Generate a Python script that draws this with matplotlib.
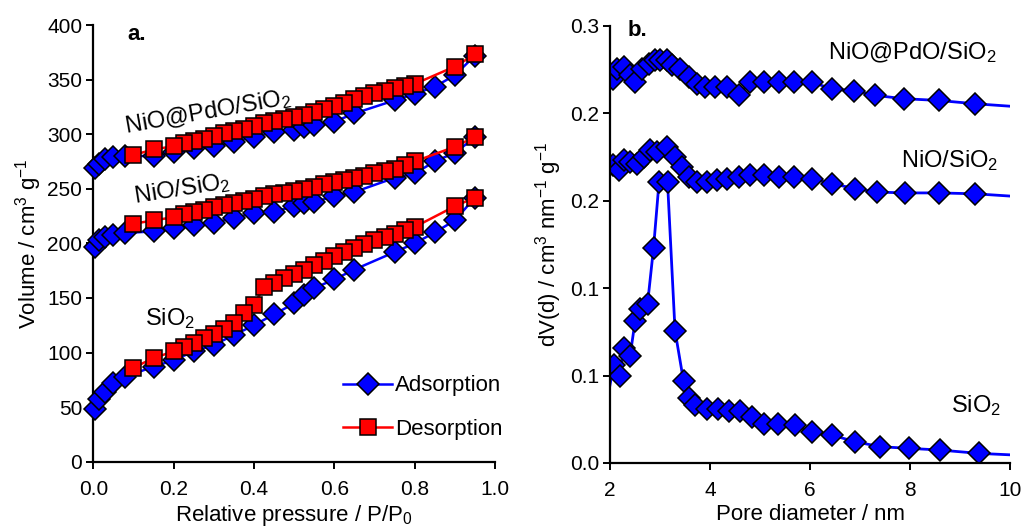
import numpy as np
import matplotlib
matplotlib.use("Agg")
import matplotlib.pyplot as plt

plt.rcParams.update({
    "font.family": "Liberation Sans",
    "font.size": 15,
    "mathtext.fontset": "custom",
    "mathtext.rm": "Liberation Sans",
    "mathtext.it": "Liberation Sans:italic",
    "mathtext.bf": "Liberation Sans:bold",
    "axes.spines.top": False,
    "axes.spines.right": False,
    "axes.linewidth": 1.6,
    "xtick.major.width": 1.4,
    "ytick.major.width": 1.4,
    "xtick.major.size": 5,
    "ytick.major.size": 5,
    "xtick.major.pad": 8,
    "ytick.major.pad": 3,
})

BLUE = "#0000FF"
RED = "#FF0000"

# ---- (a) N2 isotherms: relative pressure P/P0 vs volume (cm3/g) ----
p_ads = [0.005, 0.015, 0.03, 0.05, 0.08, 0.15, 0.2, 0.25, 0.3, 0.35, 0.4,
         0.45, 0.5, 0.525, 0.55, 0.6, 0.65, 0.75, 0.8, 0.85, 0.9, 0.95]
p_des = [0.95, 0.9, 0.8, 0.775, 0.75, 0.725, 0.7, 0.675, 0.65, 0.625, 0.6,
         0.575, 0.55, 0.525, 0.5, 0.475, 0.45, 0.425, 0.4, 0.375, 0.35,
         0.325, 0.3, 0.275, 0.25, 0.225, 0.2, 0.15, 0.1]

sio2_ads = [48, 57, 64, 72, 78, 87, 93, 101, 107, 116, 125,
            135, 145, 153, 159, 167, 176, 192, 200, 210, 221, 242]
sio2_des = [242, 234, 215, 212, 209, 206, 203, 199, 196, 192, 188,
            184, 180, 176, 172, 168, 164, 160, 144, 136, 127,
            122, 117, 113, 109, 105, 101, 95, 86]

nio_ads = [197, 203, 206, 208, 209.5, 211, 214, 217, 219, 223, 228,
           229, 234, 237, 238, 243, 247, 260, 264, 275, 283, 297]
nio_des = [297.5, 288.5, 275, 271.5, 268.5, 266, 264, 262, 260, 258, 256,
           254, 252, 250, 248, 246.5, 245, 243, 241, 239, 237,
           235, 233, 231, 229, 226.5, 224, 221, 218]

nipd_ads = [269, 273, 277, 279, 280, 280, 284, 287, 289, 293, 297.5,
            302, 304, 307, 308.5, 311.5, 319, 331, 337, 343.5, 354, 372]
nipd_des = [373, 362, 346, 344, 342, 340, 338, 335, 332, 329, 326,
            323, 320.5, 318, 316, 314, 312, 310, 307.5, 305, 303,
            301, 298.5, 296, 294, 291.5, 289, 286, 281]

# ---- (b) pore size distributions: pore diameter (nm) vs dV(d) ----
d_sio2 = [1.97, 2.07, 2.2, 2.27, 2.4, 2.5, 2.6, 2.75, 2.87, 2.98, 3.15,
          3.3, 3.47, 3.57, 3.7, 3.93, 4.15, 4.37, 4.6, 4.83, 5.07, 5.35,
          5.7, 6.03, 6.43, 6.9, 7.4, 7.97, 8.6, 9.37, 10.05]
v_sio2 = [0.040, 0.056, 0.050, 0.066, 0.061, 0.081, 0.088, 0.091, 0.123,
          0.1607, 0.1607, 0.0756, 0.0468, 0.037, 0.033, 0.031, 0.031,
          0.0295, 0.030, 0.0263, 0.0222, 0.0225, 0.0215, 0.0178, 0.016,
          0.0122, 0.0093, 0.0084, 0.0074, 0.0055, 0.0046]

d_nio = [2.05, 2.17, 2.27, 2.4, 2.53, 2.67, 2.8, 2.93, 3.13, 3.3, 3.43,
         3.57, 3.73, 3.93, 4.13, 4.33, 4.57, 4.8, 5.07, 5.37, 5.67, 6.03,
         6.43, 6.9, 7.33, 7.9, 8.57, 9.3, 10.05]
v_nio = [0.1703, 0.1674, 0.1731, 0.1722, 0.1713, 0.175, 0.1789, 0.178,
         0.1807, 0.175, 0.1693, 0.1636, 0.1607, 0.1607, 0.1617, 0.1627,
         0.1636, 0.1646, 0.1646, 0.1636, 0.1636, 0.1627, 0.1598, 0.157,
         0.155, 0.1545, 0.1545, 0.154, 0.1526]

d_nipd = [2.05, 2.13, 2.27, 2.4, 2.5, 2.63, 2.77, 2.9, 3.0, 3.13, 3.23,
          3.4, 3.57, 3.73, 3.9, 4.1, 4.33, 4.57, 4.8, 5.07, 5.37, 5.67,
          6.03, 6.43, 6.87, 7.3, 7.87, 8.57, 9.3, 10.05]
v_nipd = [0.2198, 0.2255, 0.2265, 0.222, 0.218, 0.2255, 0.2284, 0.2303,
          0.2303, 0.2303, 0.2274, 0.2255, 0.2207, 0.217, 0.215, 0.215,
          0.215, 0.2103, 0.218, 0.218, 0.218, 0.218, 0.218, 0.214, 0.213,
          0.2103, 0.2084, 0.2074, 0.2055, 0.204]

yticks_b = [0.0, 0.05, 0.10, 0.15, 0.20, 0.25]
ytick_labels_b = ["0.0", "0.1", "0.1", "0.2", "0.2", "0.3"]

fig = plt.figure(figsize=(10.27, 5.29), dpi=100)
ax1 = fig.add_axes([0.0908, 0.1272, 0.3912, 0.8255])
ax2 = fig.add_axes([0.594, 0.1248, 0.3895, 0.8261])

ads_kw = dict(color=BLUE, lw=1.8, marker="D", ms=11, mfc=BLUE,
              mec="black", mew=1.1, clip_on=False)
des_kw = dict(color=RED, lw=1.8, marker="s", ms=12, mfc=RED,
              mec="black", mew=1.1, clip_on=False)

for ads, des in [(sio2_ads, sio2_des), (nio_ads, nio_des), (nipd_ads, nipd_des)]:
    ax1.plot(p_ads, ads, zorder=3, **ads_kw)
    ax1.plot(p_des, des, zorder=4, **des_kw)

ax1.set_xlim(0, 1.0)
ax1.set_ylim(0, 400)
ax1.set_xticks(np.arange(0, 1.01, 0.2))
ax1.set_xticklabels(["0.0", "0.2", "0.4", "0.6", "0.8", "1.0"])
ax1.set_yticks(np.arange(0, 401, 50))
ax1.set_xlabel("Relative pressure / P/P$_0$", labelpad=3, fontsize=16)
ax1.set_ylabel("Volume / cm$^3$ g$^{-1}$", labelpad=2, fontsize=16)

ax1.text(0.286, 320, "NiO@PdO/SiO$_2$", rotation=10, ha="center",
         va="center", fontsize=17)
ax1.text(0.22, 250, "NiO/SiO$_2$", rotation=9, ha="center",
         va="center", fontsize=17)
ax1.text(0.19, 131, "SiO$_2$", ha="center", va="center", fontsize=17)
ax1.text(0.085, 0.978, "a.", transform=ax1.transAxes, fontweight="bold",
         fontsize=16, va="center")

h_ads, = ax1.plot([], [], **ads_kw)
h_des, = ax1.plot([], [], **des_kw)
ax1.legend([h_ads, h_des], ["Adsorption", "Desorption"], loc="lower left",
           bbox_to_anchor=(0.6, 0.03), frameon=False, handlelength=2.2,
           labelspacing=1.0, handletextpad=0.15, fontsize=16,
           borderaxespad=0)

psd_kw = dict(color=BLUE, lw=2.0, marker="D", ms=11, mfc=BLUE,
              mec="black", mew=1.1)
ax2.plot(d_sio2, v_sio2, markevery=slice(1, len(d_sio2) - 1), **psd_kw)
ax2.plot(d_nio, v_nio, markevery=slice(0, len(d_nio) - 1), **psd_kw)
ax2.plot(d_nipd, v_nipd, markevery=slice(0, len(d_nipd) - 1), **psd_kw)

ax2.set_xlim(2, 10)
ax2.set_ylim(0, 0.25)
ax2.set_xticks([2, 4, 6, 8, 10])
ax2.set_yticks(yticks_b)
ax2.set_yticklabels(ytick_labels_b)
ax2.set_xlabel("Pore diameter / nm", labelpad=3, fontsize=16)
ax2.set_ylabel("dV(d) / cm$^3$ nm$^{-1}$ g$^{-1}$", labelpad=4, fontsize=16)

ax2.text(8.04, 0.2349, "NiO@PdO/SiO$_2$", ha="center", va="center", fontsize=17)
ax2.text(8.8, 0.173, "NiO/SiO$_2$", ha="center", va="center", fontsize=17)
ax2.text(9.32, 0.033, "SiO$_2$", ha="center", va="center", fontsize=17)
ax2.text(0.045, 0.99, "b.", transform=ax2.transAxes, fontweight="bold",
         fontsize=16, va="center")

fig.savefig("out.png", dpi=100)
